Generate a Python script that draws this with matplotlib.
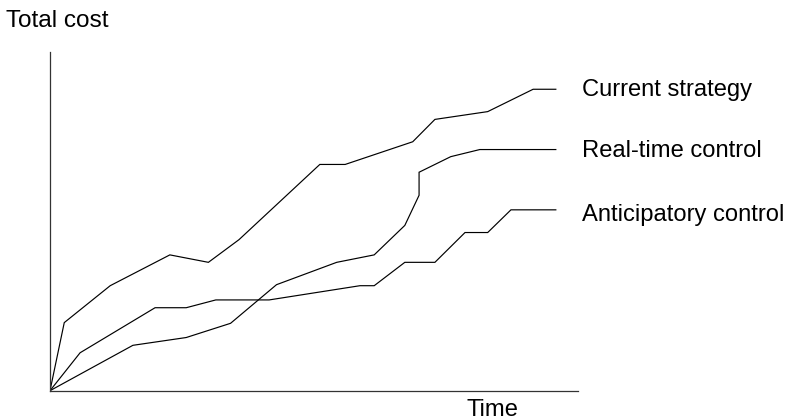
import matplotlib
matplotlib.use("Agg")
import matplotlib.pyplot as plt

# Data (arbitrary units: time 0-100, cost 0-100)
series_names = ["Current strategy", "Real-time control", "Anticipatory control"]

current_t = [0, 2.7, 11.4, 22.7, 30.0, 35.8, 51.1, 55.9, 68.7, 72.9, 82.9, 91.5, 95.8]
current_c = [0, 20.1, 31.0, 40.1, 37.9, 44.6, 66.8, 66.8, 73.5, 80.1, 82.4, 89.0, 89.0]

realtime_t = [0, 15.7, 25.8, 34.2, 42.9, 54.3, 61.4, 67.2, 69.9, 69.9, 75.9, 81.4, 95.8]
realtime_c = [0, 13.4, 15.7, 19.9, 31.3, 37.9, 40.1, 48.8, 57.7, 64.5, 69.1, 71.2, 71.2]

anticip_t = [0, 5.7, 19.9, 25.8, 31.4, 41.5, 58.7, 61.4, 67.2, 72.9, 78.6, 82.9, 87.3, 95.8]
anticip_c = [0, 11.2, 24.5, 24.5, 26.8, 26.8, 31.0, 31.0, 37.9, 37.9, 46.7, 46.7, 53.4, 53.4]

W, H = 787, 420
fig = plt.figure(figsize=(W / 100, H / 100), dpi=100)
plt.rcParams['font.family'] = ['Liberation Sans', 'DejaVu Sans']

x0, x1 = 50, 578
y0, y1 = 390.7, 52
ax = fig.add_axes([x0 / W, 1 - y0 / H, (x1 - x0) / W, (y0 - y1) / H])
ax.set_xlim(0, 100)
ax.set_ylim(0, 100)
for s in ["top", "right"]:
    ax.spines[s].set_visible(False)
for s in ["left", "bottom"]:
    ax.spines[s].set_color("#333333")
    ax.spines[s].set_linewidth(0.9)
ax.set_xticks([])
ax.set_yticks([])

lw = 0.85
ax.plot(current_t, current_c, color="black", lw=lw, solid_joinstyle="miter")
ax.plot(realtime_t, realtime_c, color="black", lw=lw, solid_joinstyle="miter")
ax.plot(anticip_t, anticip_c, color="black", lw=lw, solid_joinstyle="miter")

fs = 17.1
def ftext(px, py, s, size=fs):
    fig.text(px / W, 1 - py / H, s, fontsize=size, va="baseline", ha="left", color="black")

ftext(6, 27.3, "Total cost", 17.6)
ftext(467, 416.5, "Time")
ftext(582, 96, series_names[0])
ftext(582, 157.3, series_names[1])
ftext(582, 220.7, series_names[2])

fig.savefig("out.png", dpi=100)
